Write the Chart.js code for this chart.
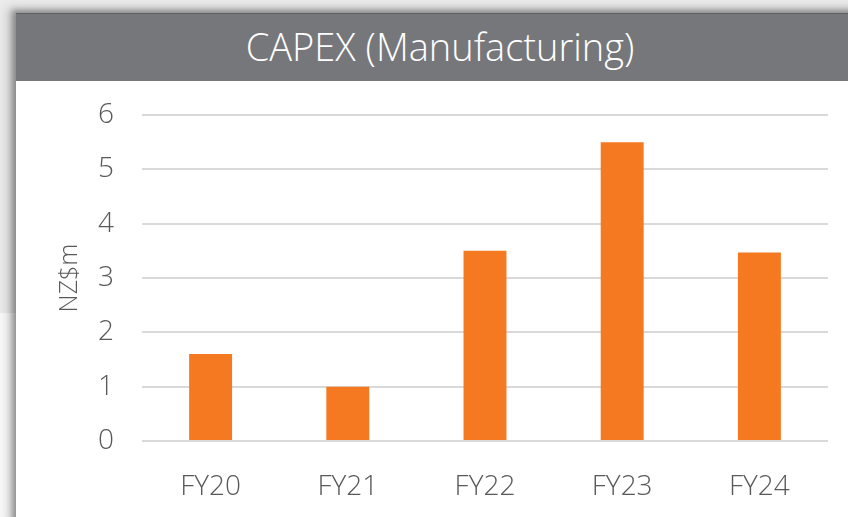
<!DOCTYPE html>
<html>
<head>
<meta charset="utf-8">
<script src="https://cdn.jsdelivr.net/npm/chart.js@4/dist/chart.umd.min.js"></script>
<style>
  html, body { margin:0; padding:0; }
  body { width:848px; height:517px; overflow:hidden; position:relative; background:#ececec; }
  #whiteStrip { position:absolute; left:0; top:313px; width:16px; height:204px; background:#fbfbfb; }
  #panel { position:absolute; left:16px; top:13px; width:860px; height:520px; background:#fff;
           box-shadow: -3px -2px 6px 1px rgba(0,0,0,0.35), -10px -6px 10px rgba(0,0,0,0.12); }
  #header { position:absolute; left:0; top:0; width:848px; height:68px; background:#76777b;
            border-top:1px solid #5f6064; box-sizing:border-box;
            color:#fff; font-family:"Open Sans", sans-serif; font-weight:300; font-size:38px;
            line-height:64px; }
  #header span { position:absolute; left:0; width:848px; text-align:center; }
  #wrap { position:absolute; left:0; top:0; width:848px; height:517px; }
</style>
</head>
<body>
<div id="whiteStrip"></div>
<div id="panel"><div id="header"><span>CAPEX (Manufacturing)</span></div></div>
<div id="wrap"><canvas id="c" width="848" height="517"></canvas></div>
<script>
const categories = ["FY20", "FY21", "FY22", "FY23", "FY24"];
const capexValues = [1.6, 1.0, 3.5, 5.5, 3.47];
const yTicks = [0, 1, 2, 3, 4, 5, 6];
const yAxisTitle = "NZ$m";

new Chart(document.getElementById('c'), {
  type: 'bar',
  data: {
    labels: categories,
    datasets: [{
      data: capexValues,
      backgroundColor: '#f47920',
      borderWidth: 0,
      barPercentage: 1.0,
      categoryPercentage: 0.313
    }]
  },
  options: {
    responsive: false,
    animation: false,
    events: [],
    layout: { padding: { left: 40, right: 20, top: 115, bottom: 0 } },
    plugins: { legend: { display: false }, tooltip: { enabled: false }, title: { display: false } },
    scales: {
      x: {
        afterFit: (s) => { s.height = 76; },
        grid: { display: false, drawTicks: false },
        border: { display: false },
        ticks: { padding: 29, color: '#595959', font: { family: '"Open Sans", sans-serif', weight: 300, size: 28 } }
      },
      y: {
        min: 0, max: 6,
        afterFit: (s) => { s.width = 102; },
        afterBuildTicks: (s) => { s.ticks = yTicks.map(v => ({ value: v })); },
        grid: { color: '#d9d9d9', lineWidth: 2, drawTicks: false },
        border: { display: false },
        ticks: { padding: 28, color: '#595959', font: { family: '"Open Sans", sans-serif', weight: 300, size: 28 } },
        title: { display: true, text: yAxisTitle, color: '#595959', padding: { top: 15, bottom: 0 },
                 font: { family: '"Open Sans", sans-serif', weight: 300, size: 25 } }
      }
    }
  }
});
</script>
</body>
</html>
